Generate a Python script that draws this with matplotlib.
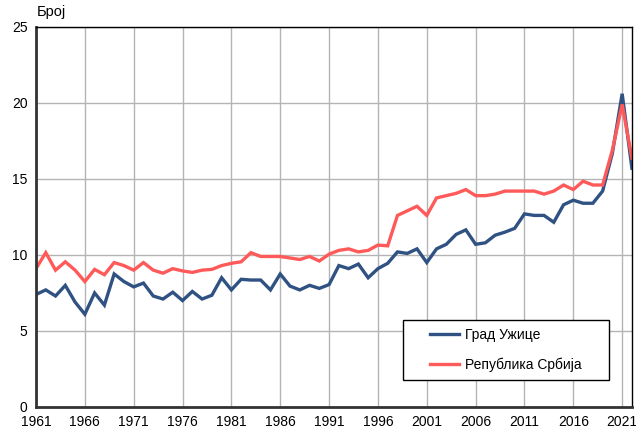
import matplotlib
matplotlib.use("Agg")
import matplotlib.pyplot as plt
from matplotlib.patches import Rectangle

YEARS = list(range(1961, 2023))
UZICE = [7.4, 7.7, 7.3, 8.0, 6.9, 6.1, 7.5, 6.7, 8.75, 8.25,
         7.9, 8.15, 7.3, 7.1, 7.55, 7.0, 7.6, 7.1, 7.35, 8.5,
         7.7, 8.4, 8.35, 8.35, 7.7, 8.75, 7.95, 7.7, 8.0, 7.8,
         8.05, 9.3, 9.1, 9.4, 8.5, 9.1, 9.45, 10.2, 10.1, 10.4,
         9.5, 10.4, 10.7, 11.35, 11.65, 10.7, 10.8, 11.3, 11.5, 11.75,
         12.7, 12.6, 12.6, 12.15, 13.3, 13.6, 13.4, 13.4, 14.2, 16.7,
         20.6, 15.7]
SERBIA = [9.1, 10.15, 9.0, 9.55, 9.0, 8.25, 9.05, 8.7, 9.5, 9.3,
          9.0, 9.5, 9.0, 8.8, 9.1, 8.95, 8.85, 9.0, 9.05, 9.3,
          9.45, 9.55, 10.15, 9.9, 9.9, 9.9, 9.8, 9.7, 9.9, 9.6,
          10.05, 10.3, 10.4, 10.2, 10.3, 10.65, 10.6, 12.6, 12.9, 13.2,
          12.6, 13.75, 13.9, 14.05, 14.3, 13.9, 13.9, 14.0, 14.2, 14.2,
          14.2, 14.2, 14.0, 14.2, 14.6, 14.3, 14.85, 14.6, 14.6, 16.9,
          19.9, 16.35]
XTICKS = list(range(1961, 2022, 5))
YTICKS = [0, 5, 10, 15, 20, 25]
LABELS = ["Град Ужице", "Република Србија"]

plt.rcParams["font.family"] = ["Liberation Sans", "DejaVu Sans"]


def main():
    fig = plt.figure(figsize=(6.36, 4.30), dpi=100)
    ax = fig.add_axes([0.0566, 0.0535, 0.937, 0.884])

    ax.plot(YEARS, UZICE, color="#2f5283", lw=2.4, label=LABELS[0], solid_joinstyle="miter")
    ax.plot(YEARS, SERBIA, color="#ff5a5a", lw=2.4, label=LABELS[1], solid_joinstyle="miter")

    ax.set_xlim(1961, 2022)
    ax.set_ylim(0, 25)
    ax.set_xticks(XTICKS)
    ax.set_yticks(YTICKS)
    ax.tick_params(length=0, labelsize=10, pad=6)
    ax.grid(color="#b4b4b4", lw=1.0)
    ax.set_axisbelow(True)
    for s in ax.spines.values():
        s.set_color("#000000")
        s.set_linewidth(1.0)
    for side in ("left", "bottom"):
        ax.spines[side].set_color("#333333")
        ax.spines[side].set_linewidth(2.0)

    fig.text(0.058, 0.955, "Број", fontsize=10.5, ha="left", va="bottom")

    # legend box drawn separately so the entries can sit centred inside it
    box = (0.616, 0.071, 0.345, 0.158)
    ax.add_patch(Rectangle(box[:2], box[2], box[3], transform=ax.transAxes,
                           facecolor="white", edgecolor="#000000", lw=1.0, zorder=5))
    leg = ax.legend(loc="center", bbox_to_anchor=box, fontsize=10, frameon=False,
                    handlelength=2.1, handletextpad=0.4, labelspacing=1.1,
                    borderpad=0, borderaxespad=0)
    leg.set_zorder(6)

    fig.savefig("out.png", dpi=100)
    plt.close(fig)


if __name__ == "__main__":
    main()
